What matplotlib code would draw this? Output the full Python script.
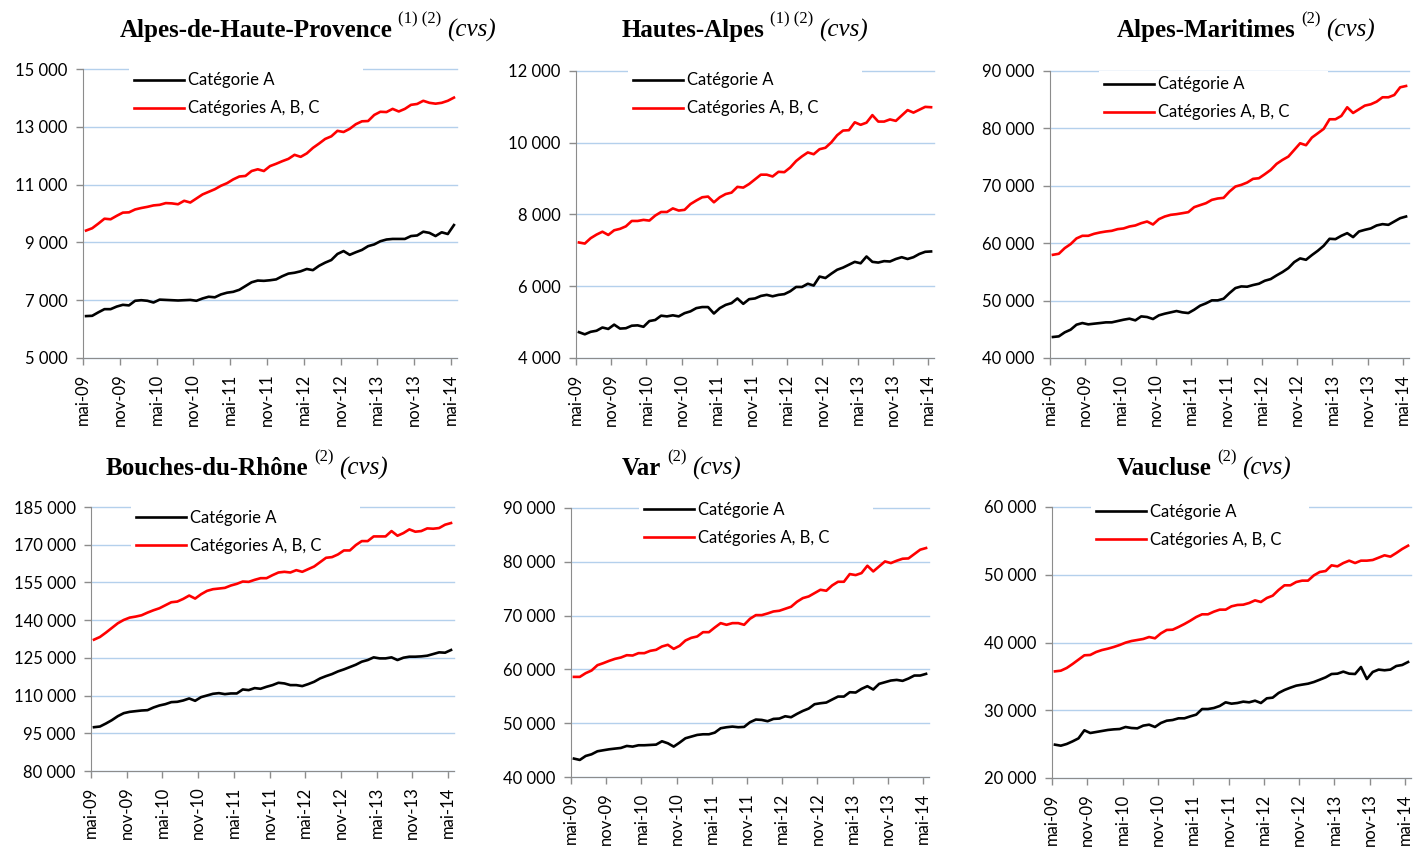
import matplotlib
matplotlib.use("Agg")
import matplotlib.pyplot as plt
from matplotlib.ticker import FuncFormatter

plt.rcParams["font.family"] = ["Lato", "DejaVu Sans"]

W, H = 1415, 849

# étiquettes de l'axe des x (un repère tous les 6 mois)
etiquettes = ["mai-09", "nov-09", "mai-10", "nov-10", "mai-11", "nov-11",
              "mai-12", "nov-12", "mai-13", "nov-13", "mai-14"]

departements = ["Alpes-de-Haute-Provence", "Hautes-Alpes", "Alpes-Maritimes",
                "Bouches-du-Rhône", "Var", "Vaucluse"]
notes = ["(1) (2)", "(1) (2)", "(2)", "(2)", "(2)", "(2)"]

# demandeurs d'emploi, catégorie A (cvs), mai-09 -> mai-14
cat_a_04 = [6450, 6460, 6580, 6690, 6690, 6780, 6840, 6820, 6980, 7000,
            6980, 6920, 7020, 7010, 7000, 6990, 7000, 7010, 6980, 7060,
            7120, 7100, 7200, 7260, 7290, 7360, 7490, 7620, 7680, 7670,
            7690, 7720, 7830, 7920, 7950, 8000, 8080, 8040, 8190, 8300,
            8390, 8600, 8700, 8570, 8660, 8740, 8870, 8930, 9040, 9100,
            9120, 9120, 9120, 9220, 9240, 9370, 9330, 9220, 9350, 9290,
            9600]
cat_a_05 = [4720, 4660, 4730, 4760, 4850, 4810, 4930, 4820, 4830, 4900,
            4910, 4870, 5030, 5060, 5180, 5160, 5190, 5160, 5250, 5300,
            5390, 5420, 5420, 5240, 5390, 5480, 5530, 5660, 5510, 5640,
            5660, 5730, 5760, 5720, 5760, 5780, 5860, 5980, 5980, 6070,
            6020, 6270, 6230, 6350, 6460, 6520, 6600, 6680, 6640, 6830,
            6680, 6660, 6700, 6690, 6760, 6810, 6760, 6810, 6900, 6960,
            6970]
cat_a_06 = [43660, 43770, 44470, 44930, 45800, 46090, 45860, 45980, 46090, 46210,
            46210, 46440, 46670, 46850, 46560, 47250, 47140, 46790, 47430, 47720,
            47950, 48180, 47950, 47830, 48410, 49110, 49520, 50040, 50040, 50330,
            51310, 52180, 52470, 52420, 52710, 52940, 53460, 53750, 54390, 54970,
            55660, 56710, 57350, 57110, 57930, 58680, 59550, 60770, 60710, 61290,
            61750, 61060, 62040, 62330, 62570, 63090, 63320, 63200, 63780, 64360,
            64650]
cat_a_13 = [97420, 97690, 98880, 100210, 101800, 103000, 103530, 103800, 104060, 104200,
            105260, 106060, 106590, 107390, 107520, 108050, 108850, 107920, 109380, 110040,
            110710, 110970, 110570, 110840, 110840, 112430, 112170, 112970, 112700, 113500,
            114160, 115090, 114830, 114160, 114160, 113770, 114560, 115490, 116820, 117750,
            118550, 119610, 120410, 121340, 122270, 123470, 124130, 125200, 124790, 124790,
            125200, 124130, 125060, 125460, 125460, 125590, 125860, 126520, 127190, 127050,
            128120]
cat_a_83 = [43420, 43170, 43910, 44220, 44780, 44970, 45150, 45280, 45400, 45770,
            45650, 45900, 45900, 45960, 46020, 46640, 46270, 45650, 46390, 47200,
            47510, 47820, 47940, 47940, 48250, 49060, 49250, 49370, 49250, 49310,
            50180, 50680, 50610, 50370, 50800, 50860, 51290, 51110, 51730, 52280,
            52720, 53530, 53710, 53840, 54400, 54950, 54950, 55760, 55700, 56380,
            56880, 56260, 57310, 57620, 57930, 58050, 57870, 58300, 58860, 58860,
            59170]
cat_a_84 = [24920, 24770, 25020, 25410, 25850, 27040, 26640, 26790, 26940, 27090,
            27180, 27230, 27530, 27380, 27330, 27730, 27870, 27530, 28120, 28460,
            28560, 28810, 28810, 29100, 29350, 30180, 30180, 30330, 30630, 31170,
            30970, 31070, 31270, 31170, 31410, 31070, 31760, 31860, 32550, 32990,
            33330, 33630, 33780, 33920, 34170, 34510, 34860, 35350, 35400, 35700,
            35400, 35350, 36380, 34610, 35650, 36000, 35900, 36000, 36530, 36680,
            37120]

# catégories A, B, C (cvs)
cat_abc_04 = [9410, 9490, 9650, 9820, 9800, 9920, 10030, 10040, 10140, 10190,
              10230, 10280, 10300, 10360, 10350, 10320, 10440, 10380, 10520, 10660,
              10750, 10840, 10960, 11050, 11180, 11280, 11300, 11470, 11530, 11470,
              11640, 11720, 11810, 11890, 12030, 11960, 12080, 12270, 12420, 12580,
              12670, 12860, 12820, 12930, 13090, 13190, 13200, 13410, 13520, 13510,
              13620, 13530, 13620, 13760, 13790, 13900, 13830, 13800, 13830, 13900,
              14010]
cat_abc_05 = [7220, 7190, 7340, 7440, 7520, 7430, 7560, 7600, 7670, 7820,
              7820, 7850, 7830, 7970, 8070, 8070, 8170, 8110, 8130, 8290,
              8390, 8480, 8500, 8340, 8480, 8570, 8610, 8770, 8750, 8850,
              8980, 9110, 9110, 9060, 9190, 9180, 9310, 9490, 9620, 9730,
              9680, 9820, 9860, 10010, 10210, 10340, 10350, 10570, 10500, 10560,
              10770, 10590, 10590, 10650, 10610, 10760, 10910, 10840, 10920, 11000,
              10990]
cat_abc_06 = [57980, 58160, 59140, 59840, 60830, 61290, 61290, 61640, 61870, 62040,
              62160, 62450, 62570, 62910, 63090, 63490, 63780, 63260, 64190, 64650,
              64940, 65060, 65230, 65410, 66280, 66630, 66970, 67550, 67790, 67900,
              69000, 69870, 70160, 70570, 71210, 71320, 72020, 72770, 73820, 74510,
              75090, 76250, 77410, 77070, 78400, 79150, 79910, 81590, 81590, 82170,
              83680, 82690, 83330, 83970, 84200, 84660, 85420, 85420, 85820, 87160,
              87390]
cat_abc_13 = [132240, 133300, 135030, 136890, 138750, 140080, 141010, 141410, 141940, 143000,
              143930, 144730, 145930, 147120, 147390, 148450, 149780, 148580, 150310, 151640,
              152310, 152570, 152840, 153770, 154430, 155360, 155230, 156030, 156690, 156690,
              157890, 158950, 159220, 158950, 159880, 159220, 160280, 161340, 163070, 164800,
              165070, 166130, 167720, 167720, 169850, 171440, 171440, 173300, 173300, 173300,
              175430, 173570, 174630, 176100, 175170, 175430, 176490, 176360, 176630, 177960,
              178620]
cat_abc_83 = [58610, 58610, 59300, 59790, 60780, 61160, 61590, 61960, 62210, 62640,
              62580, 63020, 63020, 63450, 63640, 64260, 64570, 63820, 64380, 65370,
              65870, 66120, 66920, 66920, 67790, 68600, 68290, 68600, 68600, 68290,
              69410, 70090, 70090, 70400, 70770, 70900, 71270, 71640, 72570, 73250,
              73560, 74180, 74800, 74620, 75610, 76290, 76290, 77720, 77530, 77900,
              79270, 78210, 79140, 80070, 79760, 80200, 80570, 80630, 81440, 82250,
              82560]
cat_abc_84 = [35740, 35840, 36240, 36830, 37470, 38110, 38160, 38600, 38890, 39090,
              39340, 39630, 39980, 40220, 40370, 40520, 40810, 40620, 41350, 41850,
              41890, 42290, 42730, 43220, 43760, 44160, 44160, 44550, 44850, 44850,
              45340, 45540, 45580, 45830, 46220, 45980, 46570, 46910, 47750, 48440,
              48440, 48930, 49130, 49130, 49910, 50410, 50550, 51390, 51240, 51730,
              52080, 51730, 52080, 52080, 52180, 52520, 52870, 52670, 53210, 53800,
              54290]

cat_a = [cat_a_04, cat_a_05, cat_a_06, cat_a_13, cat_a_83, cat_a_84]
cat_abc = [cat_abc_04, cat_abc_05, cat_abc_06, cat_abc_13, cat_abc_83, cat_abc_84]

# axe des y : min, max, pas
echelles = [(5000, 15000, 2000), (4000, 12000, 2000), (40000, 90000, 10000),
            (80000, 185000, 15000), (40000, 90000, 10000), (20000, 60000, 10000)]

# mise en page en pixels : zone de tracé (gauche, droite, haut, bas)
zones = [(83, 457, 69, 358), (576, 934, 71, 358), (1050, 1409, 71, 358),
         (91, 454, 507, 771), (571, 929, 508, 777), (1052, 1411, 507, 778)]
titres_pos = [(120, 37), (622, 37), (1117, 37), (106, 475), (622, 475), (1117, 475)]
# légende : début du trait, centre 1re ligne, fin du cadre
legendes_pos = [(134, 80, 363), (633, 80, 862), (1104, 84, 1328),
                (136, 517, 360), (644, 509, 873), (1096, 511, 1309)]

TAILLE_LEG = 12


def milliers(v, pos):
    return f"{int(round(v)):,}".replace(",", " ")


def titre(ax, x, y, nom, note):
    yf = 1 - y / H
    t1 = ax.figure.text(x / W, yf, nom, fontsize=18, fontweight="bold",
                        family="Liberation Serif", va="baseline")
    t2 = ax.annotate(note, xy=(1, yf), xycoords=(t1, "figure fraction"),
                     xytext=(4, 10), textcoords="offset points",
                     fontsize=12, family="Liberation Serif", va="baseline")
    ax.annotate("(cvs)", xy=(1, yf), xycoords=(t2, "figure fraction"),
                xytext=(4, 0), textcoords="offset points",
                fontsize=18, style="italic", family="Liberation Serif", va="baseline")


def main():
    fig = plt.figure(figsize=(W / 100, H / 100), dpi=100)
    fig.patch.set_facecolor("white")

    for i in range(6):
        l, r, t, b = zones[i]
        ax = fig.add_axes([l / W, 1 - b / H, (r - l) / W, (b - t) / H])
        n = len(cat_a[i])
        x = [k + 0.5 for k in range(n)]
        ax.plot(x, cat_a[i], color="black", lw=1.9, label="Catégorie A", zorder=3)
        ax.plot(x, cat_abc[i], color="#ff0000", lw=1.9, label="Catégories A, B, C", zorder=3)

        ax.set_xlim(0, n)
        ymin, ymax, pas = echelles[i]
        ax.set_ylim(ymin, ymax)
        ax.set_yticks(list(range(ymin, ymax + 1, pas)))
        ax.yaxis.set_major_formatter(FuncFormatter(milliers))
        ax.set_xticks(list(range(0, n, 6)))
        ax.set_xticklabels(etiquettes, rotation=90)

        ax.grid(axis="y", color="#b4d0ec", lw=1)
        ax.set_axisbelow(True)
        for gl in ax.get_ygridlines():
            gl.set_clip_on(False)
        for s in ["top", "right"]:
            ax.spines[s].set_visible(False)
        for s in ["left", "bottom"]:
            ax.spines[s].set_color("#8c8c8c")
        ax.tick_params(colors="#8c8c8c", labelcolor="black", length=5, width=1,
                       labelsize=12, pad=6)

        hx, ry, gx = legendes_pos[i]
        fs = TAILLE_LEG * 100 / 72
        pad = 0.3 * fs
        x0 = (hx - pad - l) / (r - l)
        x1 = (gx - l) / (r - l)
        y1 = (b - (ry - 0.45 * fs - pad)) / (b - t)
        leg = ax.legend(loc="upper left", bbox_to_anchor=(x0, y1 - 0.3, x1 - x0, 0.3),
                        mode="expand", borderaxespad=0, borderpad=0.3, fontsize=TAILLE_LEG,
                        handlelength=3.0, handletextpad=0.25, labelspacing=0.72,
                        frameon=True, fancybox=False, edgecolor="none",
                        facecolor="white", framealpha=1)
        leg.set_zorder(1)

        titre(ax, titres_pos[i][0], titres_pos[i][1], departements[i], notes[i])

    fig.savefig("out.png", dpi=100, facecolor="white")


if __name__ == '__main__':
    main()
